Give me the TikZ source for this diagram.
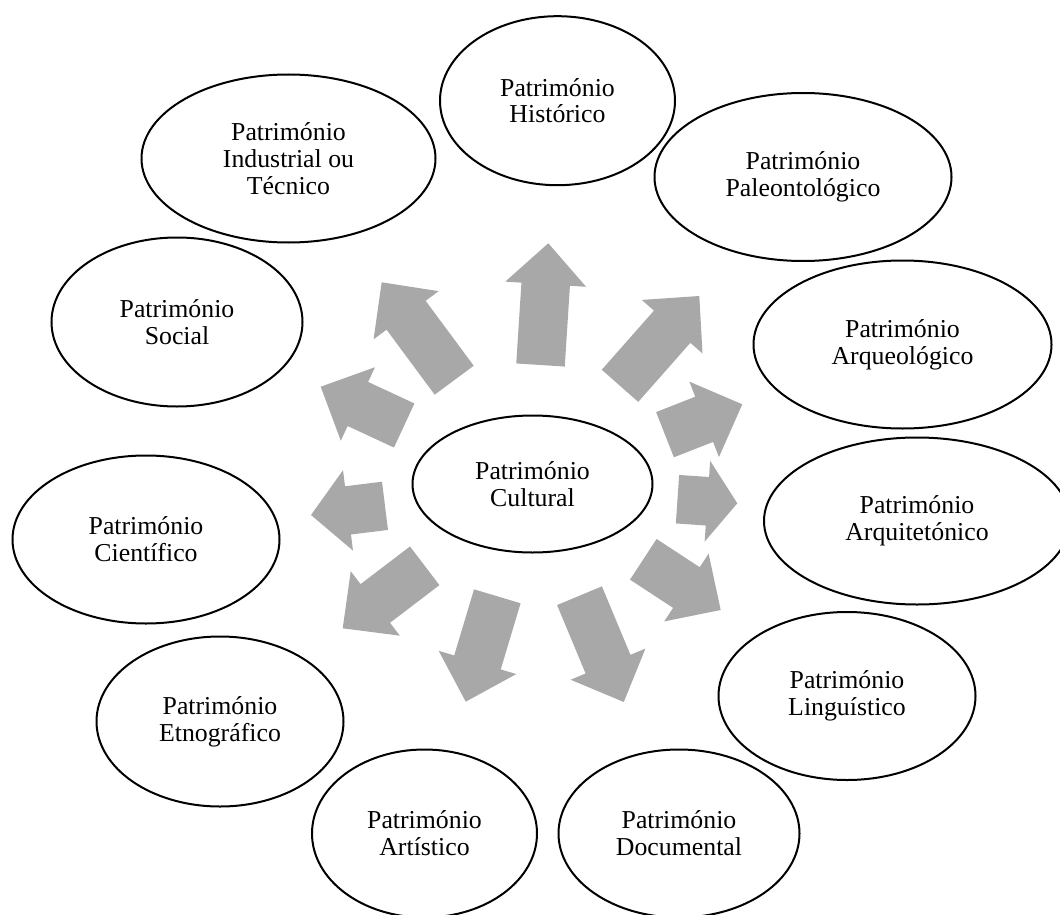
\documentclass[tikz,border=0pt]{standalone}
\usepackage{fontspec}
\setmainfont{Liberation Serif}
\usetikzlibrary{shapes.geometric,calc}
\definecolor{arrowgray}{RGB}{168,168,168}
% block arrow from base centre #1 to tip #2, head length #3
\newcommand\blockarrow[3]{%
  \coordinate (hb) at ($(#2)!#3!(#1)$);
  \fill[arrowfill] ($(#1)!12.15pt!90:(#2)$) -- ($(hb)!12.15pt!90:(#2)$)
    -- ($(hb)!20.25pt!90:(#2)$) -- (#2) -- ($(hb)!20.25pt!-90:(#2)$)
    -- ($(hb)!12.15pt!-90:(#2)$) -- ($(#1)!12.15pt!-90:(#2)$) -- cycle;}
\begin{document}
\begin{tikzpicture}[x=0.5pt,y=-0.5pt,
  bubble/.style={ellipse,draw=black,line width=1pt,fill=white,inner sep=0pt,
    align=center,font=\fontsize{12.9}{13.4}\selectfont},
  arrowfill/.style={fill=arrowgray}]
\useasboundingbox (0,0) rectangle (1060,915);
\clip (0,0) rectangle (1060,915);

% ellipses
\node[bubble,minimum width=120pt,minimum height=68.5pt] (cult) at (532.5,484) {Património\\Cultural};
\node[bubble,minimum width=117.5pt,minimum height=84.5pt] (hist) at (557.5,100.7) {Património\\Histórico};
\node[bubble,minimum width=148.5pt,minimum height=84pt] (paleo) at (803,177) {Património\\Paleontológico};
\node[bubble,minimum width=149pt,minimum height=84pt] (arqueo) at (902.5,344.5) {Património\\Arqueológico};
\node[bubble,minimum width=153pt,minimum height=83.5pt] (arquit) at (917,521) {Património\\Arquitetónico};
\node[bubble,minimum width=128.5pt,minimum height=84pt] (ling) at (847,696) {Património\\Linguístico};
\node[bubble,minimum width=120.5pt,minimum height=84pt] (doc) at (679,833.5) {Património\\Documental};
\node[bubble,minimum width=112.5pt,minimum height=84pt] (art) at (424.5,833.5) {Património\\Artístico};
\node[bubble,minimum width=123.5pt,minimum height=85pt] (etno) at (220,721.5) {Património\\Etnográfico};
\node[bubble,minimum width=133.5pt,minimum height=84pt] (cient) at (146,539.5) {Património\\Científico};
\node[bubble,minimum width=125.5pt,minimum height=84.5pt] (social) at (177,322) {Património\\Social};
\node[bubble,minimum width=147pt,minimum height=84pt] (indus) at (288.5,158.5) {Património\\Industrial ou\\Técnico};

% arrow end points
\coordinate (hist-s) at (540.5,365);   \coordinate (hist-e) at (548.3,243.3);
\coordinate (indus-s) at (454.2,380.2); \coordinate (indus-e) at (381.7,282.3);
\coordinate (social-s) at (404.2,425.5); \coordinate (social-e) at (320.7,386.7);
\coordinate (paleo-s) at (620,385.8);  \coordinate (paleo-e) at (699.3,296);
\coordinate (arqueo-s) at (665,434.7); \coordinate (arqueo-e) at (742.3,404.3);
\coordinate (arquit-s) at (677.5,499.2); \coordinate (arquit-e) at (737.3,503.3);
\coordinate (ling-s) at (643.3,559.3); \coordinate (ling-e) at (720.7,610);
\coordinate (doc-s) at (579.5,595.7);  \coordinate (doc-e) at (623.8,702);
\coordinate (art-s) at (497.3,596.3);  \coordinate (art-e) at (465.7,701.7);
\coordinate (etno-s) at (424.7,565.8); \coordinate (etno-e) at (342.7,628.3);
\coordinate (cient-s) at (385,505.8);  \coordinate (cient-e) at (311,515);

% block arrows
\blockarrow{hist-s}{hist-e}{20.5pt}
\blockarrow{indus-s}{indus-e}{20.5pt}
\blockarrow{social-s}{social-e}{20.5pt}
\blockarrow{paleo-s}{paleo-e}{20.5pt}
\blockarrow{arqueo-s}{arqueo-e}{20.5pt}
\blockarrow{arquit-s}{arquit-e}{0.5}
\blockarrow{ling-s}{ling-e}{20.5pt}
\blockarrow{doc-s}{doc-e}{20.5pt}
\blockarrow{art-s}{art-e}{20.5pt}
\blockarrow{etno-s}{etno-e}{20.5pt}
\blockarrow{cient-s}{cient-e}{0.5}
\end{tikzpicture}
\end{document}
